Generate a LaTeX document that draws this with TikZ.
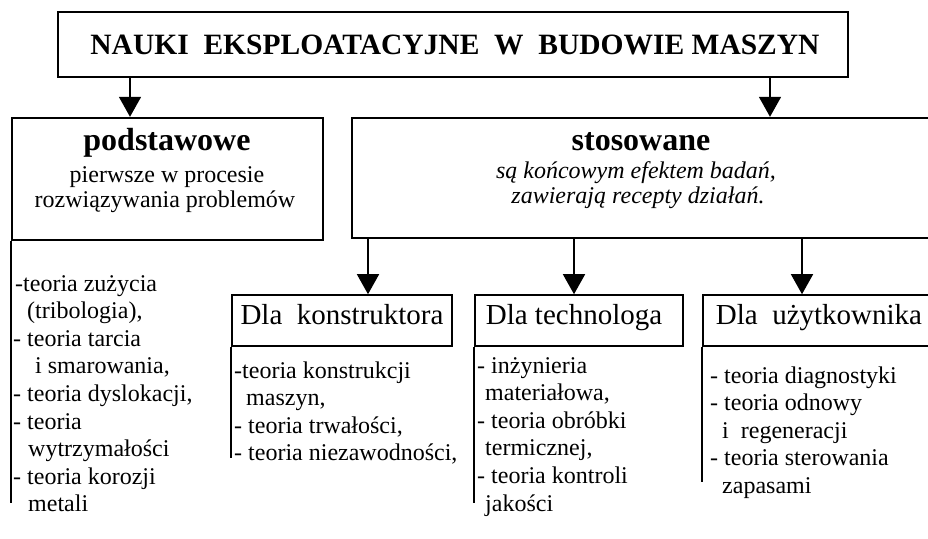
\documentclass[tikz,border=0pt]{standalone}
\usepackage{fontspec}
\setmainfont{Liberation Serif}
\usetikzlibrary{arrows.meta}

\begin{document}
\begin{tikzpicture}[x=1pt,y=-1pt,
    main_box/.style={draw,line width=2.4pt,inner sep=0pt},
    sub_box/.style={draw,line width=1.6pt,inner sep=0pt},
    arr/.style={line width=1.6pt,-{Triangle[width=22pt,length=20pt]}},
    list_line/.style={line width=1.6pt},
    head/.style={anchor=base,inner sep=0pt,font=\bfseries\fontsize{32}{32}\selectfont},
    body/.style={anchor=base,inner sep=0pt,font=\fontsize{24}{24}\selectfont},
    sub_head/.style={anchor=base,inner sep=0pt,font=\fontsize{29}{29}\selectfont},
    item/.style={anchor=base west,inner sep=0pt,font=\fontsize{24}{24}\selectfont}]
    \useasboundingbox (0,0) rectangle (928,538);

    % boxes
    \node[main_box,minimum width=790pt,minimum height=65pt] (title) at (453,44.5) {};
    \node[main_box,minimum width=311pt,minimum height=122pt] (podst) at (167.5,179) {};
    \node[main_box,minimum width=579pt,minimum height=120pt] (stos) at (641.5,178) {};
    \node[sub_box,minimum width=220pt,minimum height=51pt] (kon) at (342,320.5) {};
    \node[sub_box,minimum width=208pt,minimum height=51pt] (tech) at (579,320.5) {};
    \node[sub_box,minimum width=232pt,minimum height=51pt] (uzyt) at (819,320.5) {};

    % texts in boxes
    \node[anchor=base,inner sep=0pt,font=\bfseries\fontsize{29.5}{29.5}\selectfont] (title_t) at (455,54)
        {NAUKI\ \ EKSPLOATACYJNE\ \ W\ \ BUDOWIE MASZYN};
    \node[head] (podst_t) at (167,150) {podstawowe};
    \node[body] (podst_a) at (167,182) {pierwsze w procesie};
    \node[body] (podst_b) at (165,207) {rozwiązywania problemów};
    \node[head] (stos_t) at (641,150) {stosowane};
    \node[body,font=\itshape\fontsize{24}{24}\selectfont] (stos_a) at (636,178) {są końcowym efektem badań,};
    \node[body,font=\itshape\fontsize{24}{24}\selectfont] (stos_b) at (638,203) {zawierają recepty działań.};
    \node[sub_head] (kon_t) at (342,324) {Dla\ \ konstruktora};
    \node[sub_head] (tech_t) at (574,324) {Dla technologa};
    \node[sub_head] (uzyt_t) at (819,324) {Dla\ \ użytkownika};

    % arrows
    \coordinate (a1) at (130,0);
    \coordinate (a2) at (770,0);
    \coordinate (a3) at (368,0);
    \coordinate (a4) at (574,0);
    \coordinate (a5) at (802,0);
    \draw[arr] (a1 |- title.south) -- (a1 |- podst.north);
    \draw[arr] (a2 |- title.south) -- (a2 |- stos.north);
    \draw[arr] (a3 |- stos.south) -- (a3 |- kon.north);
    \draw[arr] (a4 |- stos.south) -- (a4 |- tech.north);
    \draw[arr] (a5 |- stos.south) -- (a5 |- uzyt.north);

    % list lines
    \coordinate (e1) at (0,503);
    \coordinate (e2) at (0,458);
    \coordinate (e3) at (0,503);
    \coordinate (e4) at (0,482);
    \draw[list_line] (podst.south west) -- (podst.south west |- e1);
    \draw[list_line] (kon.south west) -- (kon.south west |- e2);
    \draw[list_line] (tech.south west) -- (tech.south west |- e3);
    \draw[list_line] (uzyt.south west) -- (uzyt.south west |- e4);

    % lists
    \foreach \t [count=\i] in {{\hspace{2pt}-teoria zużycia},{\hspace{14pt}(tribologia),},
        {- teoria tarcia},{\hspace{22pt}i smarowania,},{- teoria dyslokacji,},{- teoria},
        {\hspace{15pt}wytrzymałości},{- teoria korozji},{\hspace{15pt}metali}}
        \node[item] (p\i) at (13,{291+27.6*(\i-1)}) {\t};
    \foreach \t [count=\i] in {{-teoria konstrukcji},{\hspace{12pt}maszyn,},
        {- teoria trwałości,},{- teoria niezawodności,}}
        \node[item] (k\i) at (234,{378+27.6*(\i-1)}) {\t};
    \foreach \t [count=\i] in {{- inżynieria},{\hspace{8pt}materiałowa,},{- teoria obróbki},
        {\hspace{8pt}termicznej,},{- teoria kontroli},{\hspace{8pt}jakości}}
        \node[item] (t\i) at (477,{373+27.6*(\i-1)}) {\t};
    \foreach \t [count=\i] in {{- teoria diagnostyki},{- teoria odnowy},{\hspace{12pt}i\ \ regeneracji},
        {- teoria sterowania},{\hspace{12pt}zapasami}}
        \node[item] (u\i) at (710,{383+27.6*(\i-1)}) {\t};
\end{tikzpicture}
\end{document}
